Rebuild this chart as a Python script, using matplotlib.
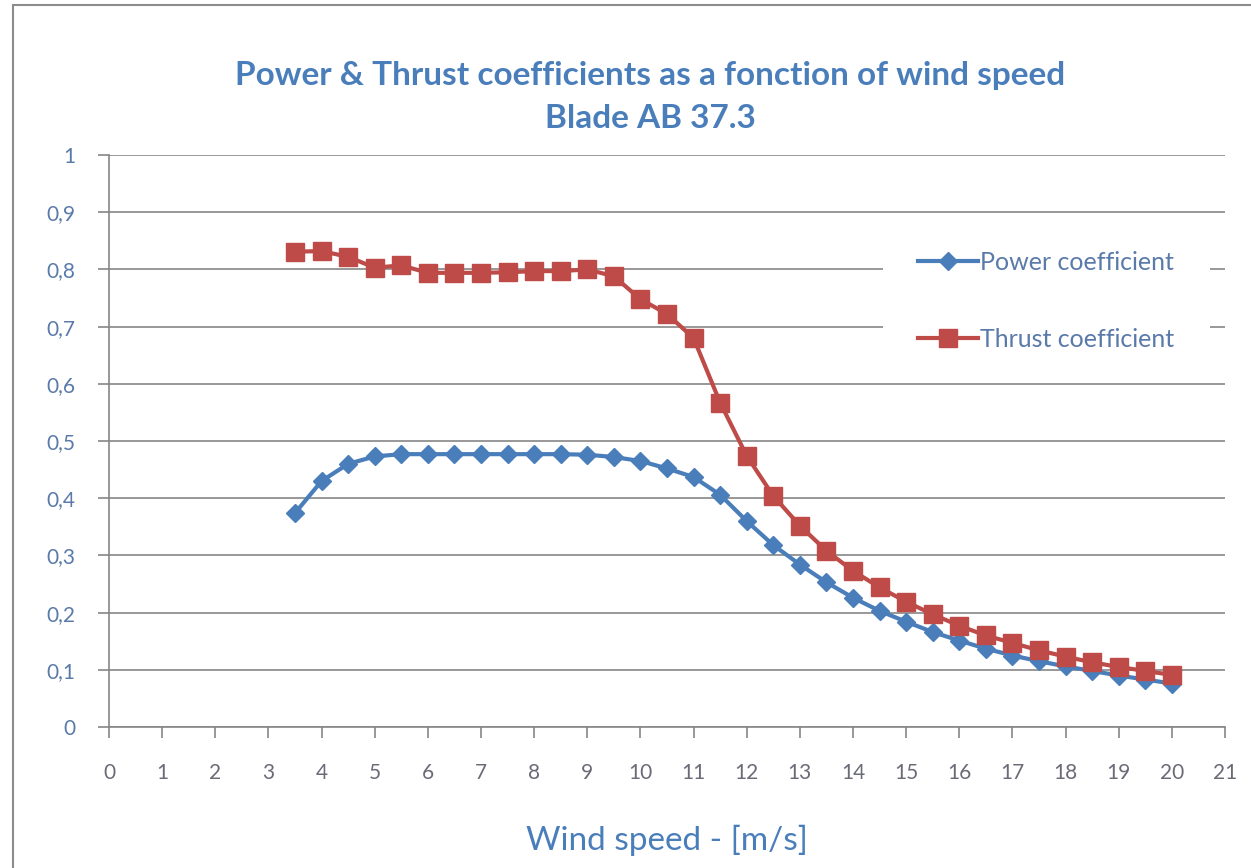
import matplotlib.pyplot as plt
from matplotlib.patches import Rectangle

wind = [3.5, 4, 4.5, 5, 5.5, 6, 6.5, 7, 7.5, 8, 8.5, 9, 9.5, 10, 10.5, 11, 11.5,
        12, 12.5, 13, 13.5, 14, 14.5, 15, 15.5, 16, 16.5, 17, 17.5, 18, 18.5,
        19, 19.5, 20]
power = [0.374, 0.430, 0.460, 0.473, 0.477, 0.477, 0.477, 0.477, 0.477, 0.477,
         0.477, 0.476, 0.472, 0.465, 0.452, 0.437, 0.406, 0.360, 0.318, 0.284,
         0.253, 0.226, 0.203, 0.184, 0.166, 0.151, 0.137, 0.125, 0.115, 0.106,
         0.098, 0.090, 0.083, 0.076]
thrust = [0.831, 0.832, 0.822, 0.803, 0.807, 0.794, 0.794, 0.794, 0.795, 0.797,
          0.797, 0.800, 0.788, 0.748, 0.722, 0.680, 0.567, 0.474, 0.404, 0.352,
          0.308, 0.273, 0.244, 0.219, 0.197, 0.177, 0.160, 0.147, 0.134, 0.123,
          0.113, 0.105, 0.098, 0.091]
yticks = [0, 0.1, 0.2, 0.3, 0.4, 0.5, 0.6, 0.7, 0.8, 0.9, 1]
ylabels = ["0", "0,1", "0,2", "0,3", "0,4", "0,5", "0,6", "0,7", "0,8", "0,9", "1"]

blue = "#4A7EBB"
red = "#BE4B48"
txt = "#5A7AAA"
grey_txt = "#6B6B78"

plt.rcParams["font.family"] = ["Lato", "DejaVu Sans"]

fig = plt.figure(figsize=(12.51, 8.68), dpi=100)
fig.patches.append(Rectangle((13 / 1251, -0.01), 1.0, 1 - 5 / 868 + 0.01,
                             transform=fig.transFigure, fill=False,
                             edgecolor="#8C8C8C", linewidth=1.5))

ax = fig.add_axes([109 / 1251, 1 - 727 / 868, (1225 - 109) / 1251, (727 - 155) / 868])
ax.set_xlim(0, 21)
ax.set_ylim(0, 1)

ax.plot(wind, power, color=blue, linewidth=3, marker="D", markersize=9,
        label="Power coefficient", zorder=3)
ax.plot(wind, thrust, color=red, linewidth=3, marker="s", markersize=13,
        label="Thrust coefficient", zorder=3)

ax.set_xticks(range(22))
ax.set_yticks(yticks)
ax.set_yticklabels(ylabels)
ax.tick_params(direction="out", length=8, width=1.2, color="#868686", labelsize=15)
ax.tick_params(axis="x", labelcolor=grey_txt, pad=18)
ax.tick_params(axis="y", labelcolor=txt, pad=16)
ax.grid(axis="y", color="#868686", linewidth=1.2)
ax.set_axisbelow(True)
for s in ["top", "right"]:
    ax.spines[s].set_visible(False)
for s in ["left", "bottom"]:
    ax.spines[s].set_color("#868686")
    ax.spines[s].set_linewidth(1.2)

ax.set_xlabel("Wind speed - [m/s]", fontsize=24, color=blue, labelpad=30)

fig.text(0.52, 1 - 76 / 868, "Power & Thrust coefficients as a fonction of wind speed",
         ha="center", va="center", fontsize=24, fontweight="bold", color=blue)
fig.text(0.52, 1 - 119 / 868, "Blade AB 37.3",
         ha="center", va="center", fontsize=24, fontweight="bold", color=blue)

# white area behind the legend hides the gridlines
ax.add_patch(Rectangle(((883 - 109) / 1116, (727 - 362) / 572),
                       (1210 - 883) / 1116, (362 - 238) / 572,
                       transform=ax.transAxes, facecolor="white",
                       edgecolor="none", zorder=1))

leg = ax.legend(loc="center left", bbox_to_anchor=((918 - 109) / 1116, 0.745),
                frameon=False, fontsize=18, labelspacing=2.15, handlelength=2.4,
                handletextpad=0.1, borderpad=0.0, borderaxespad=0.0)
for t in leg.get_texts():
    t.set_color(txt)

plt.savefig("out.png", dpi=100)
